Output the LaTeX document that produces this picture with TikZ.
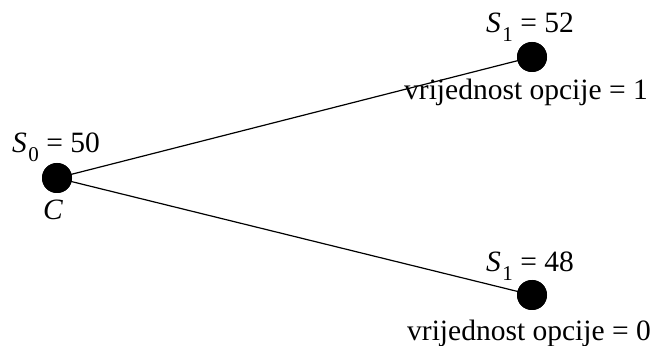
\documentclass[tikz,border=0pt]{standalone}
\usepackage{fontspec}
\setmainfont{Liberation Serif}
\newcommand{\Ssub}[1]{\textit{S}\kern0.05em\raisebox{-0.28em}{\fontsize{21}{21}\selectfont #1}}
\begin{document}
\begin{tikzpicture}[x=1pt,y=1pt,
  dot/.style={circle,fill=black,inner sep=0pt,minimum size=30pt},
  lbl/.style={anchor=base,inner sep=0pt,font=\fontsize{29.5}{32}\selectfont},
  edge/.style={line width=1.2pt}]
\useasboundingbox (0,0) rectangle (655,345);
\node[dot] (c) at (57,167) {};
\node[dot] (u) at (532,288) {};
\node[dot] (d) at (532,50) {};
\draw[edge] (c.center) -- (u.center);
\draw[edge] (c.center) -- (d.center);
\node[dot] at (c) {};
\node[dot] at (u) {};
\node[dot] at (d) {};
\node[lbl] (s0) at (56,192) {\Ssub{0} = 50};
\node[lbl] (cl) at (53,125) {\textit{C}};
\node[lbl] (s1u) at (530,312) {\Ssub{1} = 52};
\node[lbl] (vu) at (526,245) {vrijednost opcije = 1};
\node[lbl] (s1d) at (530,73) {\Ssub{1} = 48};
\node[lbl] (vd) at (529,5) {vrijednost opcije = 0};
\end{tikzpicture}
\end{document}
